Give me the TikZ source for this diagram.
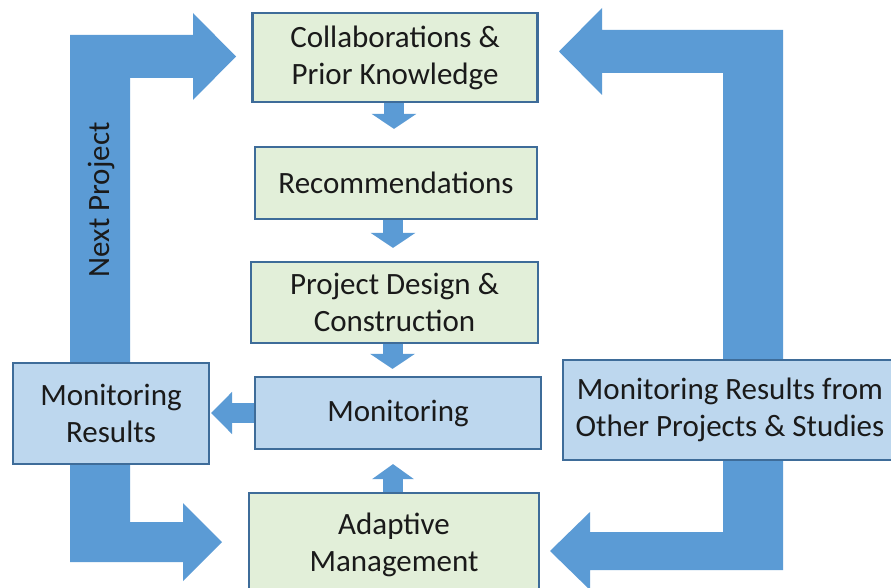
\documentclass[tikz,border=0pt]{standalone}
\usepackage{fontspec}
\setmainfont{Carlito}
\usetikzlibrary{arrows.meta}
\definecolor{bigblue}{HTML}{5B9BD5}
\definecolor{edgeblue}{HTML}{3E6C99}
\definecolor{greenfill}{HTML}{E2EFD9}
\definecolor{bluefill}{HTML}{BDD7EE}
\definecolor{txt}{HTML}{1A1A1A}
\tikzset{
  box/.style={draw=edgeblue, line width=2.2pt, inner sep=0pt, align=center,
    text=txt, font=\fontsize{31}{37}\selectfont},
  greenbox/.style={box, fill=greenfill},
  bluebox/.style={box, fill=bluefill},
  bigarrow/.style={fill=bigblue, draw=none},
  smallarrow/.style={draw=bigblue, line width=20pt,
    -{Triangle[width=44pt,length=15pt]}},
}
\begin{document}
\begin{tikzpicture}[x=1pt,y=-1pt]
\useasboundingbox (0,0) rectangle (891,588);
\clip (0,0) rectangle (891,588);
\fill[white] (0,0) rectangle (891,588);
% big left arrow
\fill[bigarrow] (70,35) -- (193,35) -- (193,13) -- (236,56.5) -- (193,100) -- (193,78)
  -- (130,78) -- (130,522) -- (183,522) -- (183,503) -- (222,542) -- (183,581)
  -- (183,562) -- (70,562) -- cycle;
% big right arrow
\fill[bigarrow] (783,30) -- (602,30) -- (602,8) -- (559,51.5) -- (602,95) -- (602,73)
  -- (723,73) -- (723,532) -- (590,532) -- (590,512) -- (550,551) -- (590,590)
  -- (590,570) -- (783,570) -- cycle;
\node[rotate=90, text=txt, font=\fontsize{31}{37}\selectfont] (np) at (101,200) {Next Project};
% boxes
\node[greenbox, minimum width=285pt, minimum height=89pt] (collab) at (395,57.5)
  {Collaborations \&\\Prior Knowledge};
\node[greenbox, minimum width=282pt, minimum height=72pt] (rec) at (396,183)
  {Recommendations};
\node[greenbox, minimum width=287pt, minimum height=81pt] (pd) at (394.5,302.5)
  {Project Design \&\\Construction};
\node[bluebox, minimum width=286pt, minimum height=72pt] (mon) at (398,413)
  {Monitoring};
\node[greenbox, minimum width=290pt, minimum height=104pt] (adapt) at (394,545)
  {Adaptive\\Management};
\node[bluebox, minimum width=196pt, minimum height=101pt] (mr) at (111,413.5)
  {Monitoring\\Results};
\node[bluebox, minimum width=334pt, minimum height=100pt] (mro) at (730,410)
  {Monitoring Results from\\Other Projects \& Studies};
% small arrows
\draw[smallarrow, shorten >=17pt] ([xshift=-1pt]collab.south) -- ([xshift=-2pt]rec.north|-rec.north);
\draw[smallarrow, shorten >=13pt] ([xshift=-3pt]rec.south) -- ([xshift=-3pt]rec.south|-pd.north);
\draw[smallarrow, shorten >=7pt] ([xshift=-2pt]pd.south) -- ([xshift=-2pt]pd.south|-mon.north);
\draw[smallarrow, shorten >=14pt, -{Triangle[width=41pt,length=15pt]}] ([xshift=-1pt]adapt.north) -- ([xshift=-1pt]adapt.north|-mon.south);
\draw[smallarrow, shorten >=1pt, -{Triangle[width=41pt,length=21pt]}] (mon.west) -- (mr.east|-mon.west);
\end{tikzpicture}
\end{document}
